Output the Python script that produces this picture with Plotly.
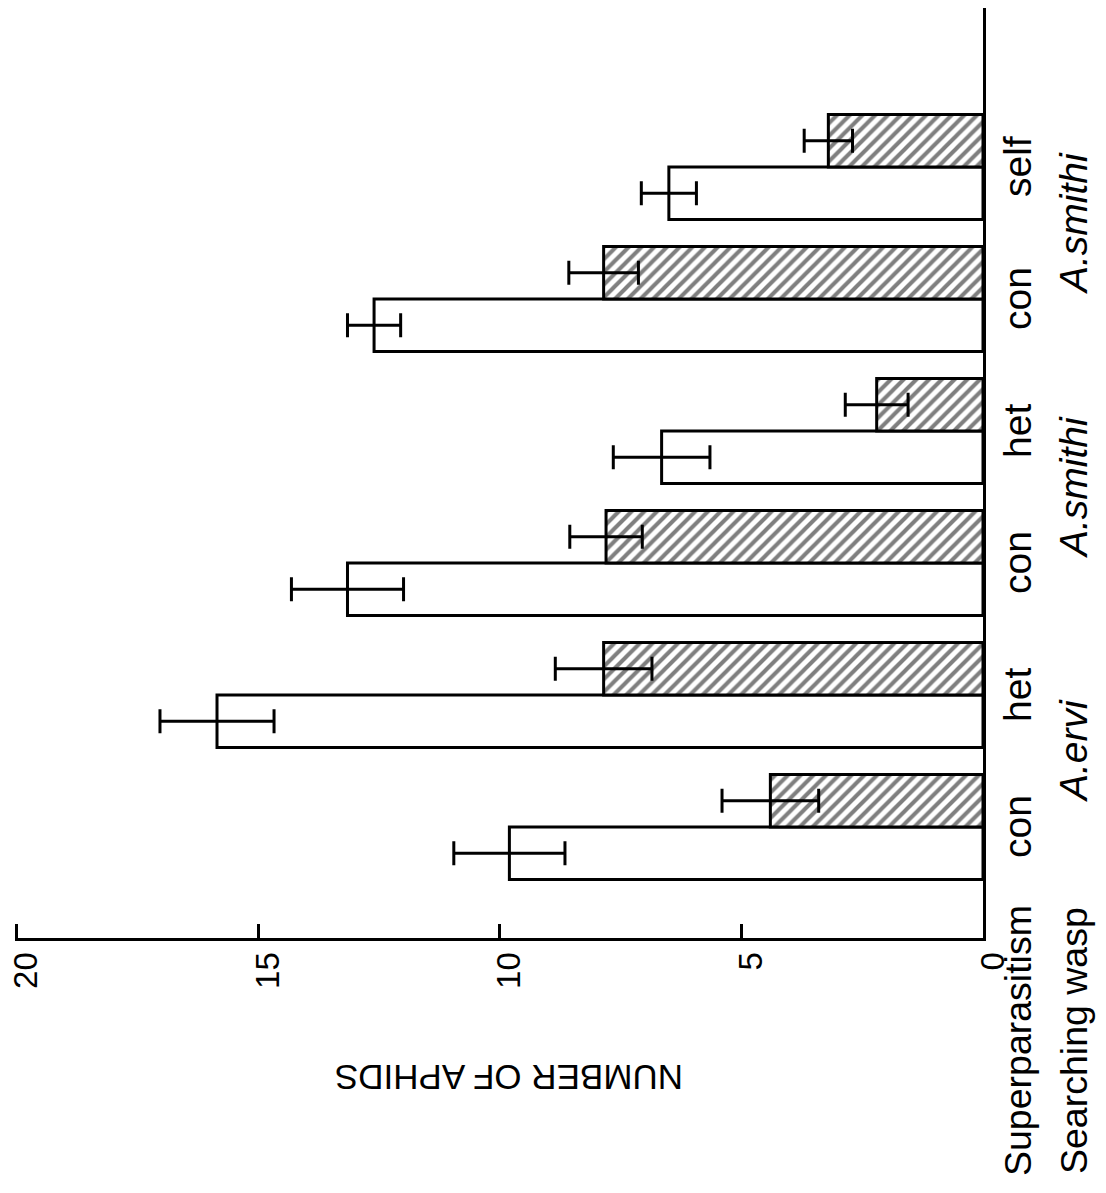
import plotly.graph_objects as go

# ---- data ----
categories = ["A.ervi con", "A.ervi het", "A.smithi con", "A.smithi het",
              "A.smithi con (2)", "A.smithi self"]
superparasitism = ["con", "het", "con", "het", "con", "self"]
searching_wasp = ["A.ervi", "A.smithi", "A.smithi"]
open_values = [9.8, 15.85, 13.15, 6.65, 12.6, 6.5]
open_errors = [1.15, 1.18, 1.16, 1.0, 0.55, 0.57]
hatched_values = [4.4, 7.85, 7.8, 2.2, 7.85, 3.2]
hatched_errors = [1.0, 1.0, 0.75, 0.65, 0.72, 0.5]
x_ticks = [0, 5, 10, 15, 20]
axis_title = "NUMBER OF APHIDS"
row_titles = ["Superparasitism", "Searching wasp"]

# ---- layout geometry (pixels) ----
OFF = 8                       # default page body margin of the HTML page
W, H = 1106 - OFF, 1193 - OFF
L, R, T, B = 7, 123, 0, 255
PW, PH = W - L - R, H - T - B
def px(x):                    # screen x -> paper fraction
    return (x - OFF - L) / PW
def py(y):                    # screen y -> paper fraction
    return (H - B - (y - OFF)) / PH

FONT = "Liberation Sans, Arial, Helvetica, sans-serif"

fig = go.Figure()
fig.add_trace(go.Bar(
    y=categories, x=open_values, orientation="h", name="open",
    marker=dict(color="white", line=dict(color="black", width=3)),
    error_x=dict(type="data", array=open_errors, color="black",
                 thickness=3, width=12),
))
fig.add_trace(go.Bar(
    y=categories, x=hatched_values, orientation="h", name="hatched",
    marker=dict(color="white", line=dict(color="black", width=3),
                pattern=dict(shape="/", fgcolor="black", bgcolor="white",
                             size=9, solidity=0.45)),
    error_x=dict(type="data", array=hatched_errors, color="black",
                 thickness=3, width=12),
))

annotations = []
for cat, lab in zip(categories, superparasitism):
    annotations.append(dict(
        x=px(1018), xref="paper", y=cat, yref="y", text=lab, textangle=-90,
        showarrow=False, xanchor="center", yanchor="middle",
        font=dict(family=FONT, size=39, color="black")))
for i, lab in enumerate(searching_wasp):
    annotations.append(dict(
        x=px(1074), xref="paper", y=2 * i + 0.5, yref="y", yshift=10,
        text=lab, textangle=-90, showarrow=False,
        xanchor="center", yanchor="middle",
        font=dict(family=FONT, size=39, color="black", style="italic")))
for lab, cx in zip(row_titles, [1018, 1074]):
    annotations.append(dict(
        x=px(cx), xref="paper", y=py(1041), yref="paper", text=lab,
        textangle=-90, showarrow=False, xanchor="center", yanchor="middle",
        font=dict(family=FONT, size=37.5, color="black")))
annotations.append(dict(
    x=px(509), xref="paper", y=py(1078), yref="paper", text=axis_title,
    textangle=180, showarrow=False, xanchor="center", yanchor="middle",
    font=dict(family=FONT, size=35, color="black")))

fig.update_layout(
    width=W, height=H,
    margin=dict(l=L, r=R, t=T, b=B, pad=0, autoexpand=False),
    paper_bgcolor="white", plot_bgcolor="white",
    barmode="group", bargap=0.205, bargroupgap=0,
    showlegend=False,
    annotations=annotations,
    xaxis=dict(range=[20.03, 0], tickvals=x_ticks, ticktext=[str(v) for v in x_ticks],
               ticks="inside", ticklen=14, tickwidth=3, tickcolor="black",
               showline=True, linewidth=3, linecolor="black",
               showgrid=False, zeroline=False, tickangle=-90,
               ticklabelstandoff=-2, ticklabelshift=-10,
               ticklabeloverflow="allow", automargin=False,
               tickfont=dict(family=FONT, size=33, color="black")),
    yaxis=dict(range=[-0.841, 6.2045], side="right", showline=True,
               linewidth=3, linecolor="black", showticklabels=False,
               ticks="", showgrid=False, zeroline=False, automargin=False),
)

fig.write_html("out.html")
